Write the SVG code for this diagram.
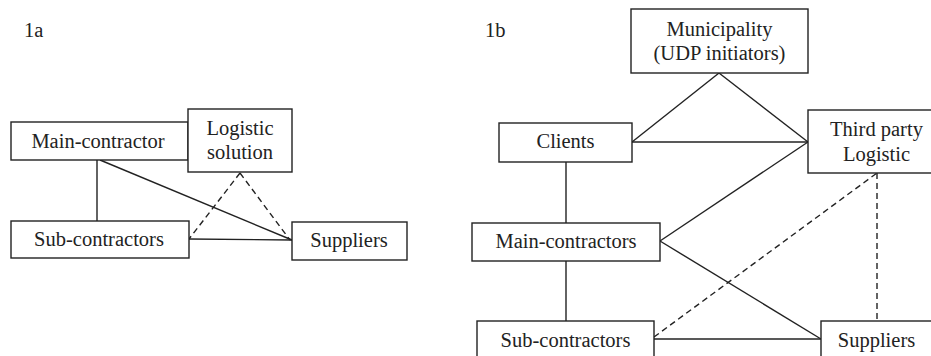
<svg xmlns="http://www.w3.org/2000/svg" width="931" height="356" viewBox="0 0 931 356">
<style>
.box{fill:#fff;stroke:#222;stroke-width:1.4}
.t{font-family:"Liberation Serif","Times New Roman",serif;font-size:20.5px;fill:#222;text-anchor:middle}
.lbl{font-family:"Liberation Serif","Times New Roman",serif;font-size:20.5px;fill:#222}
.c{stroke:#222;stroke-width:1.4;fill:none}
.d{stroke:#222;stroke-width:1.4;fill:none;stroke-dasharray:6 4}
</style>
<rect width="931" height="356" fill="#fff"/>
<text class="lbl" x="24" y="37">1a</text>
<text class="lbl" x="485" y="37">1b</text>
<g id="connectors">
<line class="c" x1="97" y1="160" x2="97" y2="221"/>
<line class="c" x1="100" y1="160" x2="292" y2="240"/>
<line class="c" x1="189" y1="239" x2="292" y2="240"/>
<line class="d" x1="240" y1="173" x2="189" y2="239"/>
<line class="d" x1="240" y1="173" x2="290" y2="240"/>
<line class="c" x1="719" y1="73" x2="632" y2="142"/>
<line class="c" x1="719" y1="73" x2="808" y2="142"/>
<line class="c" x1="632" y1="142" x2="808" y2="142"/>
<line class="c" x1="566" y1="162" x2="566" y2="223"/>
<line class="c" x1="660" y1="241" x2="808" y2="142"/>
<line class="c" x1="660" y1="241" x2="821" y2="339"/>
<line class="c" x1="566" y1="261" x2="566" y2="321"/>
<line class="c" x1="654" y1="339" x2="821" y2="339"/>
<line class="d" x1="654" y1="337" x2="877" y2="173"/>
<line class="d" x1="877" y1="173" x2="877" y2="321"/>
</g>
<g id="a-main">
<rect class="box" x="11" y="122" width="177" height="38"/>
<text class="t" x="98" y="148">Main-contractor</text>
</g>
<g id="a-logistic">
<rect class="box" x="188" y="109" width="104" height="63"/>
<text class="t" x="240" y="135">Logistic</text>
<text class="t" x="240" y="159">solution</text>
</g>
<g id="a-sub">
<rect class="box" x="11" y="221" width="178" height="37"/>
<text class="t" x="99" y="246">Sub-contractors</text>
</g>
<g id="a-suppliers">
<rect class="box" x="292" y="222" width="115" height="38"/>
<text class="t" x="349" y="247">Suppliers</text>
</g>
<g id="b-municipality">
<rect class="box" x="631" y="9" width="177" height="64"/>
<text class="t" x="719.5" y="36">Municipality</text>
<text class="t" x="719.5" y="60">(UDP initiators)</text>
</g>
<g id="b-clients">
<rect class="box" x="499" y="123" width="133" height="39"/>
<text class="t" x="565.5" y="148">Clients</text>
</g>
<g id="b-thirdparty">
<rect class="box" x="808" y="110" width="140" height="63"/>
<text class="t" x="876.5" y="136">Third party</text>
<text class="t" x="876.5" y="161">Logistic</text>
</g>
<g id="b-main">
<rect class="box" x="472" y="223" width="188" height="38"/>
<text class="t" x="566" y="248">Main-contractors</text>
</g>
<g id="b-sub">
<rect class="box" x="477" y="321" width="177" height="50"/>
<text class="t" x="565.5" y="347">Sub-contractors</text>
</g>
<g id="b-suppliers">
<rect class="box" x="821" y="321" width="130" height="50"/>
<text class="t" x="876.5" y="347">Suppliers</text>
</g>
</svg>
